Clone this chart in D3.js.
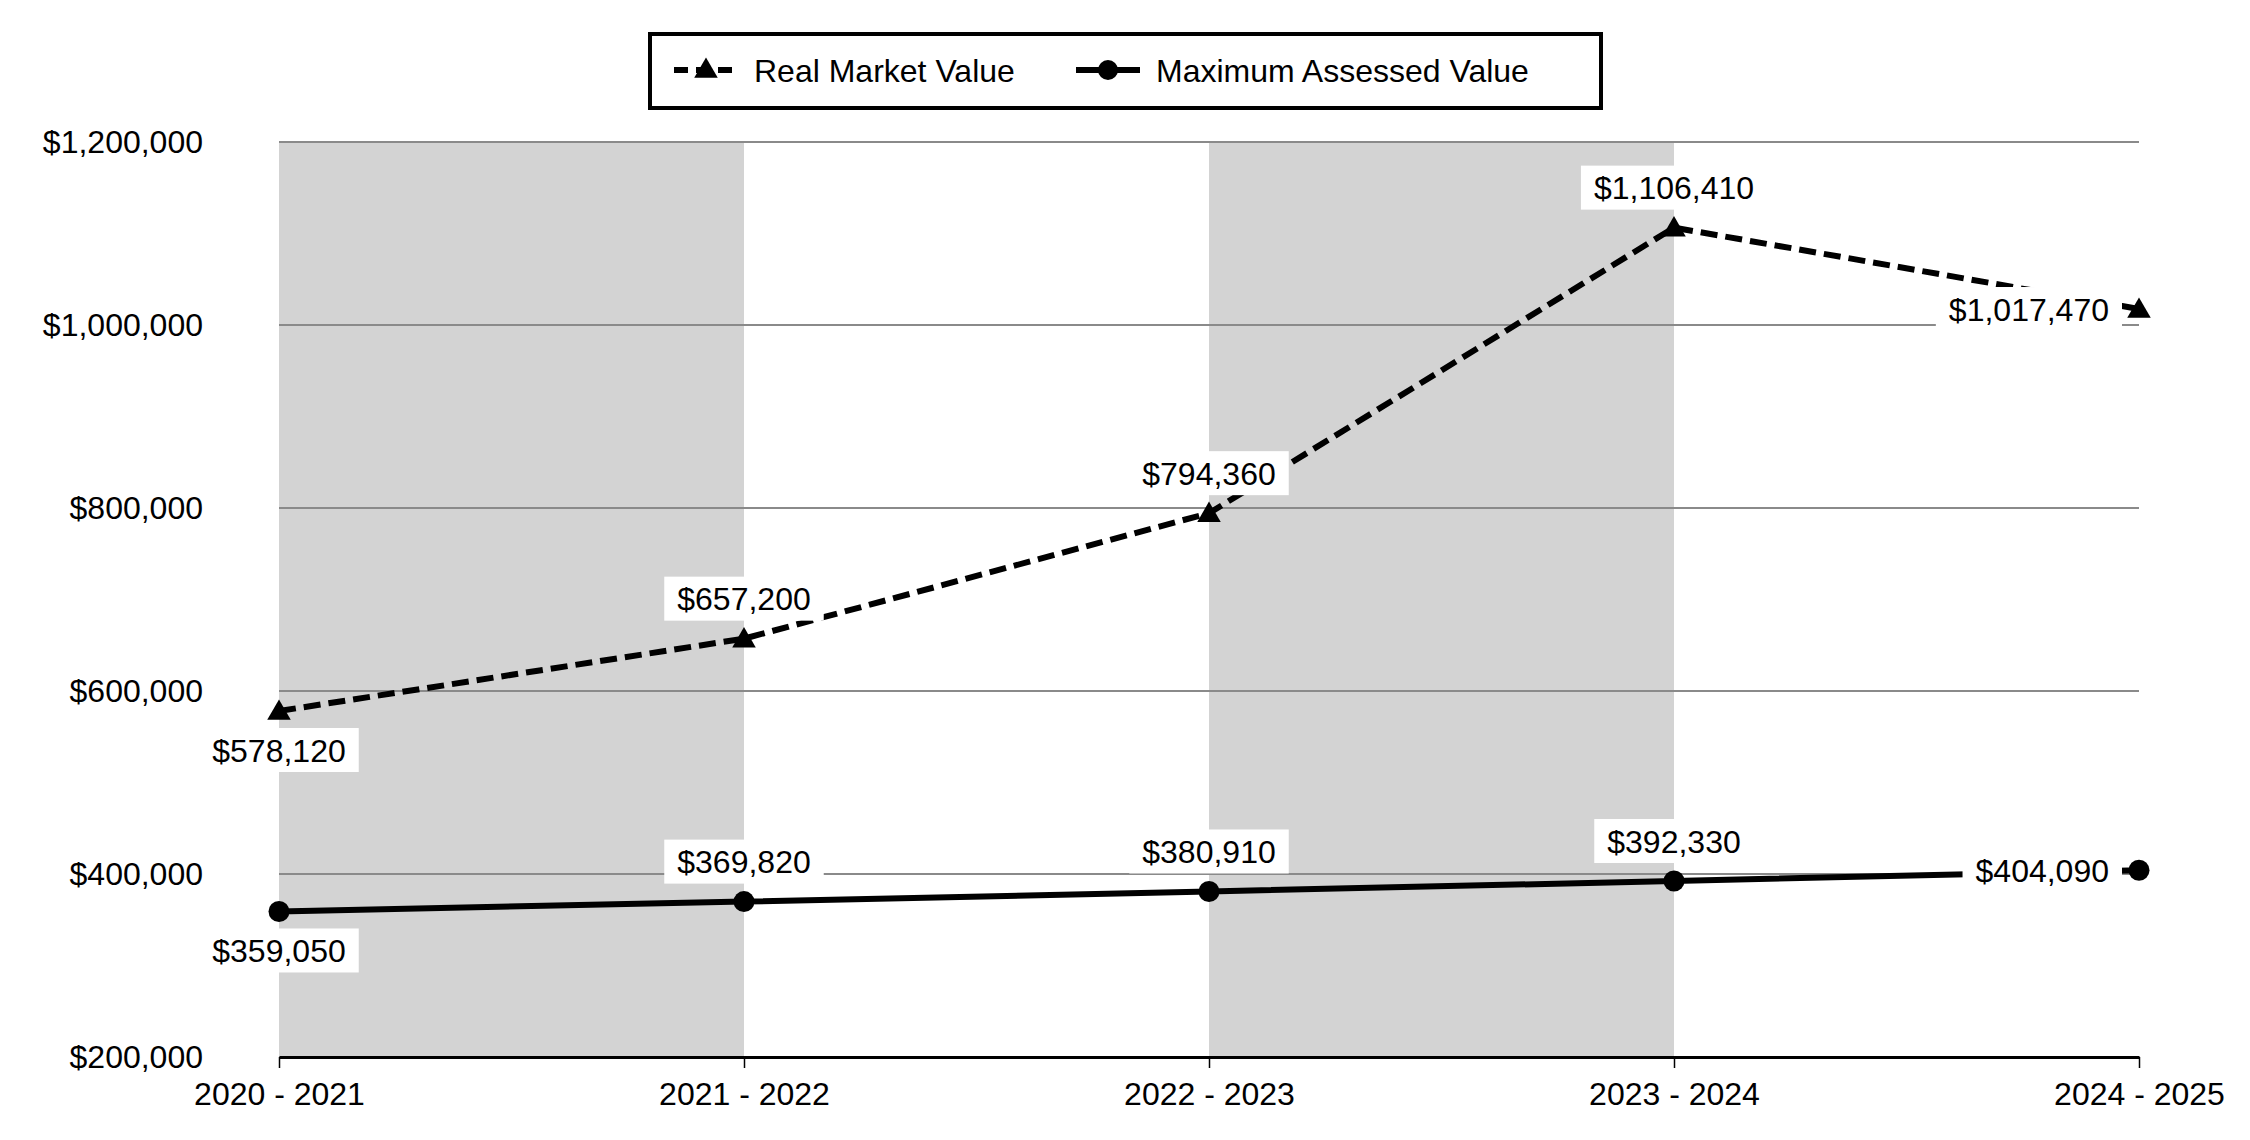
<!DOCTYPE html>
<html>
<head>
<meta charset="utf-8">
<script src="https://cdn.jsdelivr.net/npm/d3@7"></script>
<style>
  body { margin: 0; background: #fff; }
  text { font-family: Arial, "Liberation Sans", sans-serif; fill: #000; }
</style>
</head>
<body>
<div id="chart"></div>
<script>
// Data
const years = ["2020 - 2021", "2021 - 2022", "2022 - 2023", "2023 - 2024", "2024 - 2025"];
const realMarketValue = [578120, 657200, 794360, 1106410, 1017470];
const maxAssessedValue = [359050, 369820, 380910, 392330, 404090];
const yTicks = [200000, 400000, 600000, 800000, 1000000, 1200000];
const seriesNames = ["Real Market Value", "Maximum Assessed Value"];

// where each value label sits relative to its point
const realLabelSide = ["below", "above", "above", "above", "left"];
const maxLabelSide = ["below", "above", "above", "above", "left"];

// Set up SVG dimensions
const WIDTH = 2250;
const HEIGHT = 1140;
const LEFT = 279;
const RIGHT = 2139;
const TOP = 142;
const BOTTOM = 1057;
const FONT = 32;

const svg = d3
  .select("#chart")
  .append("svg")
  .attr("width", WIDTH)
  .attr("height", HEIGHT)
  .style("background-color", "#fff");

// Scales
const xScale = d3.scalePoint().domain(years).range([LEFT, RIGHT]);
const yScale = d3.scaleLinear().domain([200000, 1200000]).range([BOTTOM, TOP]);
const fmt = d3.format("$,");

// Shaded bands (every other interval)
[0, 2].forEach((i) => {
  svg
    .append("rect")
    .attr("x", xScale(years[i]))
    .attr("y", TOP)
    .attr("width", xScale(years[i + 1]) - xScale(years[i]))
    .attr("height", BOTTOM - TOP)
    .attr("fill", "#d3d3d3");
});

// Gridlines
svg
  .selectAll("line.grid")
  .data(yTicks.filter((d) => d > 200000))
  .enter()
  .append("line")
  .attr("class", "grid")
  .attr("x1", LEFT)
  .attr("x2", RIGHT)
  .attr("y1", (d) => yScale(d))
  .attr("y2", (d) => yScale(d))
  .attr("stroke", "#8a8a8a")
  .attr("stroke-width", 2);

// Y axis labels
const yAxis = svg
  .append("g")
  .attr("transform", `translate(${LEFT}, 0)`)
  .call(d3.axisLeft(yScale).tickValues(yTicks).tickSize(0).tickPadding(76).tickFormat(fmt));
yAxis.select(".domain").remove();
yAxis.selectAll("text").attr("font-size", FONT + "px").style("font-family", "Arial, 'Liberation Sans', sans-serif");

// X axis
const xAxis = svg
  .append("g")
  .attr("transform", `translate(0, ${BOTTOM})`)
  .call(d3.axisBottom(xScale).tickSize(11).tickSizeOuter(0).tickPadding(14));
xAxis.select(".domain").attr("stroke", "#000").attr("stroke-width", 3);
xAxis.selectAll(".tick line").attr("stroke", "#000").attr("stroke-width", 1.5);
xAxis.selectAll("text").attr("font-size", FONT + "px").style("font-family", "Arial, 'Liberation Sans', sans-serif");

// Lines
const line = d3
  .line()
  .x((d, i) => xScale(years[i]))
  .y((d) => yScale(d));

svg
  .append("path")
  .datum(realMarketValue)
  .attr("d", line)
  .attr("fill", "none")
  .attr("stroke", "#000")
  .attr("stroke-width", 6)
  .attr("stroke-dasharray", "17,8");

svg
  .append("path")
  .datum(maxAssessedValue)
  .attr("d", line)
  .attr("fill", "none")
  .attr("stroke", "#000")
  .attr("stroke-width", 6);

// Markers
const triangle = d3.symbol().type(d3.symbolTriangle).size(240);
svg
  .selectAll("path.tri")
  .data(realMarketValue)
  .enter()
  .append("path")
  .attr("class", "tri")
  .attr("d", triangle)
  .attr("transform", (d, i) => `translate(${xScale(years[i])}, ${yScale(d) + 2})`)
  .attr("fill", "#000");

svg
  .selectAll("circle.dot")
  .data(maxAssessedValue)
  .enter()
  .append("circle")
  .attr("class", "dot")
  .attr("cx", (d, i) => xScale(years[i]))
  .attr("cy", (d) => yScale(d))
  .attr("r", 10.5)
  .attr("fill", "#000");

// Value labels with white boxes
function addLabels(values, sides) {
  values.forEach((v, i) => {
    const px = xScale(years[i]);
    const py = yScale(v);
    const g = svg.append("g");
    const box = g.append("rect").attr("fill", "#fff");
    const t = g
      .append("text")
      .attr("font-size", FONT + "px")
      .attr("dy", "0.36em")
      .text(fmt(v));
    const w = t.node().getComputedTextLength();
    let cx, cy;
    if (sides[i] === "above") {
      cx = px;
      cy = py - 40;
    } else if (sides[i] === "below") {
      cx = px;
      cy = py + 39;
    } else {
      cx = px - 30 - w / 2;
      cy = py;
    }
    t.attr("x", cx).attr("y", cy).attr("text-anchor", "middle");
    box
      .attr("x", cx - w / 2 - 13)
      .attr("y", cy - 22)
      .attr("width", w + 26)
      .attr("height", 44);
  });
}
addLabels(realMarketValue, realLabelSide);
addLabels(maxAssessedValue, maxLabelSide);

// Legend
const legend = svg.append("g");
legend
  .append("rect")
  .attr("x", 650)
  .attr("y", 34)
  .attr("width", 951)
  .attr("height", 74)
  .attr("fill", "#fff")
  .attr("stroke", "#000")
  .attr("stroke-width", 4);

const LY = 70;
legend
  .append("line")
  .attr("x1", 674)
  .attr("x2", 738)
  .attr("y1", LY)
  .attr("y2", LY)
  .attr("stroke", "#000")
  .attr("stroke-width", 6)
  .attr("stroke-dasharray", "14,8");
legend
  .append("path")
  .attr("d", triangle)
  .attr("transform", `translate(706, ${LY + 1})`)
  .attr("fill", "#000");
legend
  .append("text")
  .attr("x", 754)
  .attr("y", LY)
  .attr("dy", "0.36em")
  .attr("font-size", FONT + "px")
  .text(seriesNames[0]);

legend
  .append("line")
  .attr("x1", 1076)
  .attr("x2", 1140)
  .attr("y1", LY)
  .attr("y2", LY)
  .attr("stroke", "#000")
  .attr("stroke-width", 6);
legend
  .append("circle")
  .attr("cx", 1108)
  .attr("cy", LY)
  .attr("r", 10)
  .attr("fill", "#000");
legend
  .append("text")
  .attr("x", 1156)
  .attr("y", LY)
  .attr("dy", "0.36em")
  .attr("font-size", FONT + "px")
  .text(seriesNames[1]);
</script>
</body>
</html>
